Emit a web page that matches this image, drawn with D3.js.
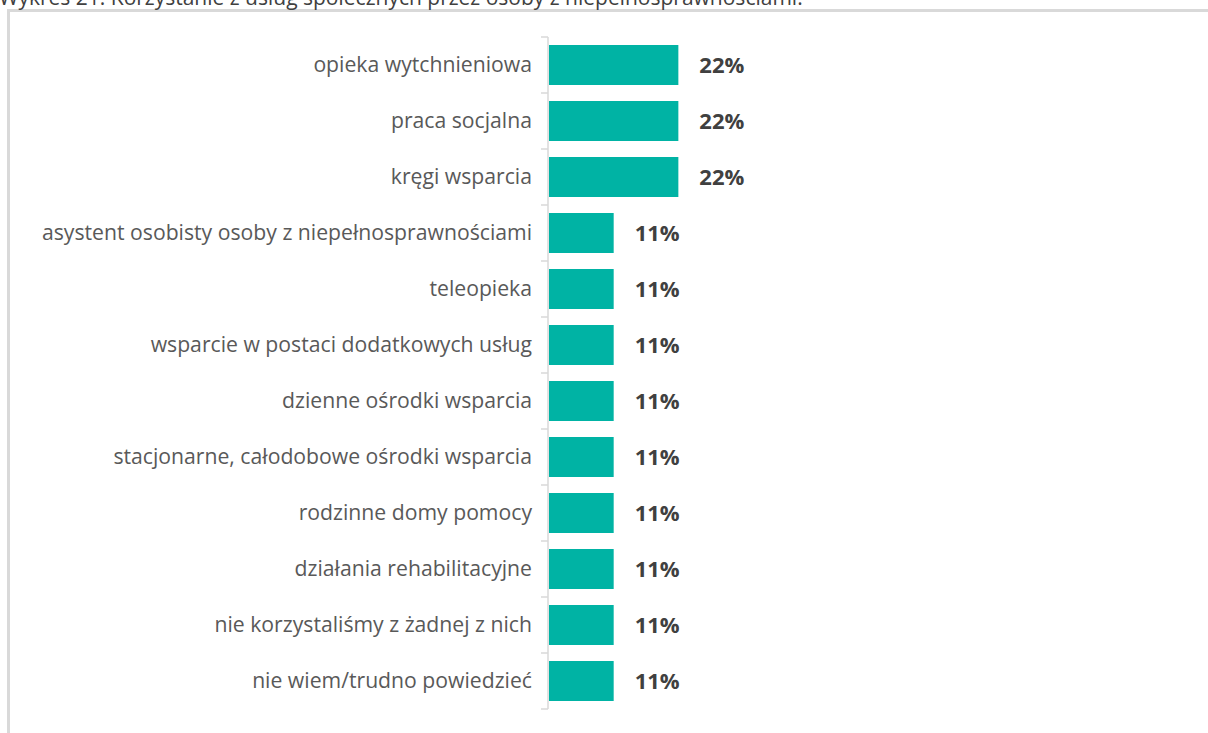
<!DOCTYPE html>
<html>
<head>
<meta charset="utf-8">
<script src="https://cdn.jsdelivr.net/npm/d3@7"></script>
<style>
  html, body { margin: 0; padding: 0; background: #fff; overflow: hidden; }
  svg { display: block; }
</style>
</head>
<body>
<div id="chart-area"></div>
<script>
// data
var title = "Wykres 21. Korzystanie z usług społecznych przez osoby z niepełnosprawnościami.";
var categories = [
  "opieka wytchnieniowa",
  "praca socjalna",
  "kręgi wsparcia",
  "asystent osobisty osoby z niepełnosprawnościami",
  "teleopieka",
  "wsparcie w postaci dodatkowych usług",
  "dzienne ośrodki wsparcia",
  "stacjonarne, całodobowe ośrodki wsparcia",
  "rodzinne domy pomocy",
  "działania rehabilitacyjne",
  "nie korzystaliśmy z żadnej z nich",
  "nie wiem/trudno powiedzieć"
];
var values = [22, 22, 22, 11, 11, 11, 11, 11, 11, 11, 11, 11];
var valueLabels = ["22%", "22%", "22%", "11%", "11%", "11%", "11%", "11%", "11%", "11%", "11%", "11%"];

var width = 1208, height = 733;
var axisX = 548;

var svg = d3.select("#chart-area")
  .append("svg")
  .attr("width", width)
  .attr("height", height);

// frame (runs off right and bottom edge)
svg.append("rect")
  .attr("x", 8.5)
  .attr("y", 10.5)
  .attr("width", width + 20)
  .attr("height", height + 20)
  .attr("fill", "none")
  .attr("stroke", "#d9d9d9")
  .attr("stroke-width", 3);

// title, mostly cut off at the top (as in the source page)
svg.append("text")
  .attr("x", -1)
  .attr("y", 5)
  .attr("font-family", "'Open Sans', sans-serif")
  .attr("font-size", "21px")
  .attr("fill", "#404040")
  .text(title);

// scales
var xScale = d3.scaleLinear()
  .domain([0, 25])
  .range([axisX, axisX + 147]);

var yScale = d3.scaleBand()
  .domain(categories)
  .range([37, 709])
  .paddingInner(16 / 56)
  .paddingOuter(8 / 56);

var step = yScale.step();
var gap = step * yScale.paddingInner();

// axis line + ticks at band boundaries
var bounds = categories.map(function(c) { return yScale(c) - gap / 2; });
bounds.push(yScale(categories[categories.length - 1]) + yScale.bandwidth() + gap / 2);

var axis = svg.append("g").attr("class", "y-axis");
axis.append("line")
  .attr("x1", axisX).attr("x2", axisX)
  .attr("y1", bounds[0]).attr("y2", bounds[bounds.length - 1])
  .attr("stroke", "#d9d9d9")
  .attr("stroke-width", 1.5);
axis.selectAll("line.tick")
  .data(bounds)
  .enter()
  .append("line")
  .attr("class", "tick")
  .attr("x1", axisX - 7).attr("x2", axisX)
  .attr("y1", function(d) { return d; })
  .attr("y2", function(d) { return d; })
  .attr("stroke", "#d9d9d9")
  .attr("stroke-width", 1.5);

// bars
svg.selectAll("rect.bar")
  .data(values)
  .enter()
  .append("rect")
  .attr("class", "bar")
  .attr("x", xScale(0) + 1)
  .attr("y", function(d, i) { return yScale(categories[i]); })
  .attr("width", function(d) { return xScale(d) - xScale(0); })
  .attr("height", yScale.bandwidth())
  .attr("fill", "#00b3a4");

// category labels
svg.selectAll("text.cat")
  .data(categories)
  .enter()
  .append("text")
  .attr("class", "cat")
  .attr("x", axisX - 16)
  .attr("y", function(d) { return yScale(d) + yScale.bandwidth() / 2; })
  .attr("dy", "0.35em")
  .attr("text-anchor", "end")
  .attr("font-family", "'Open Sans', sans-serif")
  .attr("font-size", "21.2px")
  .attr("fill", "#595959")
  .text(function(d) { return d; });

// value labels
svg.selectAll("text.val")
  .data(values)
  .enter()
  .append("text")
  .attr("class", "val")
  .attr("x", function(d) { return xScale(d) + 22; })
  .attr("y", function(d, i) { return yScale(categories[i]) + yScale.bandwidth() / 2; })
  .attr("dy", "0.36em")
  .attr("font-family", "'Open Sans', sans-serif")
  .attr("font-weight", "bold")
  .attr("font-size", "22px")
  .attr("fill", "#404040")
  .text(function(d, i) { return valueLabels[i]; });
</script>
</body>
</html>
